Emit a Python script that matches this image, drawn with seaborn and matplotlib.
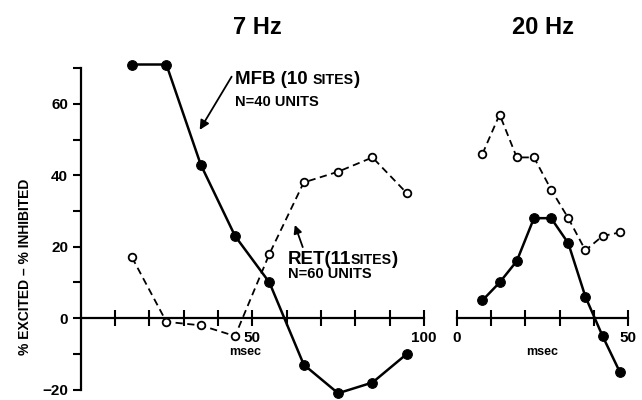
import matplotlib
matplotlib.use("Agg")
import pandas as pd
import seaborn as sns
import matplotlib.pyplot as plt
from matplotlib.offsetbox import TextArea, HPacker, AnnotationBbox

# values
t7 = [15, 25, 35, 45, 55, 65, 75, 85, 95]
mfb7 = [71, 71, 43, 23, 10, -13, -21, -18, -10]
ret7 = [17, -1, -2, -5, 18, 38, 41, 45, 35]

t20 = [7.5, 12.5, 17.5, 22.5, 27.5, 32.5, 37.5, 42.5, 47.5]
mfb20 = [5, 10, 16, 28, 28, 21, 6, -5, -15]
ret20 = [46, 57, 45, 45, 36, 28, 19, 23, 24]

sns.set_style("white")
plt.rcParams['font.family'] = ['Liberation Sans', 'DejaVu Sans']
plt.rcParams['font.weight'] = 'bold'
plt.rcParams['text.color'] = 'black'
plt.rcParams['axes.edgecolor'] = 'black'
plt.rcParams['xtick.color'] = 'black'
plt.rcParams['ytick.color'] = 'black'

df7 = pd.DataFrame({"msec": t7, "MFB": mfb7, "RET": ret7})
df20 = pd.DataFrame({"msec": t20, "MFB": mfb20, "RET": ret20})

fig = plt.figure(figsize=(6.42, 4.0), dpi=100)
ax1 = fig.add_axes([0.1254, 0.0258, 0.535, 0.804])
ax2 = fig.add_axes([0.7114, 0.0258, 0.2673, 0.804])

for ax, df in [(ax1, df7), (ax2, df20)]:
    sns.lineplot(data=df, x="msec", y="MFB", ax=ax, color="black", lw=1.8,
                 marker="o", markersize=7, markerfacecolor="black",
                 markeredgecolor="black", clip_on=False, zorder=3)
    sns.lineplot(data=df, x="msec", y="RET", ax=ax, color="black", lw=1.3,
                 linestyle=(0, (4, 2.5)), marker="o", markersize=5.5,
                 markerfacecolor="white", markeredgecolor="black",
                 markeredgewidth=1.3, clip_on=False, zorder=3)
    ax.set_ylim(-20, 70)
    ax.set_xlabel("")
    ax.set_ylabel("")
    ax.spines['top'].set_visible(False)
    ax.spines['right'].set_visible(False)
    ax.spines['bottom'].set_position(('data', 0))
    ax.spines['bottom'].set_linewidth(1.6)
    ax.spines['left'].set_linewidth(1.6)
    ax.tick_params(axis='x', direction='inout', length=12, width=1.5,
                   labelsize=11, pad=3, bottom=True)
    ax.patch.set_alpha(0)

# left panel (7 Hz)
ax1.set_xlim(0, 100)
ax1.set_xticks(range(10, 101, 10))
ax1.set_xticklabels(['', '', '', '', '50', '', '', '', '', '100'])
ax1.set_yticks([-20, 0, 20, 40, 60])
ax1.set_yticks([-10, 10, 30, 50, 70], minor=True)
ax1.tick_params(axis='y', which='both', direction='out', length=6, width=1.5,
                labelsize=11, pad=3, left=True)
ax1.text(48, -9.5, "msec", ha='center', va='center', fontsize=9)

# right panel (20 Hz)
ax2.set_xlim(0, 50)
ax2.set_xticks(range(0, 51, 10))
ax2.set_xticklabels(['0', '', '', '', '', '50'])
ax2.spines['left'].set_visible(False)
ax2.set_yticks([])
ax2.text(25, -9.5, "msec", ha='center', va='center', fontsize=9)


def small_caps_label(ax, x, y, big, small, tail, size=13.5):
    big_kw = dict(fontsize=size, fontweight='bold', color='black')
    small_kw = dict(fontsize=size * 0.75, fontweight='bold', color='black')
    box = HPacker(children=[TextArea(big, textprops=big_kw),
                            TextArea(small, textprops=small_kw),
                            TextArea(tail, textprops=big_kw)],
                  align="baseline", pad=0, sep=0)
    ab = AnnotationBbox(box, (x, y), xycoords='data', box_alignment=(0, 0.5),
                        frameon=False, pad=0)
    ax.add_artist(ab)


# annotations
small_caps_label(ax1, 44.9, 66.7, "MFB (10 ", "SITES", ")")
ax1.text(44.9, 60.6, "N=40 UNITS", ha='left', va='center', fontsize=10.5)
ax1.annotate("", xy=(34.7, 52.7), xytext=(44.0, 67.6),
             arrowprops=dict(arrowstyle='-|>', color='black', lw=1.3,
                             mutation_scale=14, shrinkA=0, shrinkB=0))
small_caps_label(ax1, 60.3, 16.5, "RET(11", "SITES", ")")
ax1.text(60.3, 12.5, "N=60 UNITS", ha='left', va='center', fontsize=10.5)
ax1.annotate("", xy=(62.4, 26.1), xytext=(64.7, 19.9),
             arrowprops=dict(arrowstyle='-|>', color='black', lw=1.3,
                             mutation_scale=12, shrinkA=0, shrinkB=0))

fig.text(25 / 642, 1 - 267 / 400, "% EXCITED – % INHIBITED", rotation=90,
         ha='center', va='center', fontsize=10)
fig.text(257 / 642, 1 - 27 / 400, "7 Hz", ha='center', va='center', fontsize=17)
fig.text(543 / 642, 1 - 27 / 400, "20 Hz", ha='center', va='center', fontsize=17)

fig.savefig("out.png", dpi=100, facecolor='white')
